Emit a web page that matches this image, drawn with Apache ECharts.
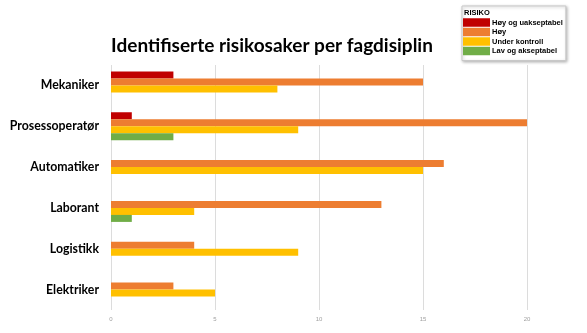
<!DOCTYPE html>
<html>
<head>
<meta charset="utf-8">
<script src="https://cdn.jsdelivr.net/npm/echarts@6/dist/echarts.min.js"></script>
<style>
  html, body { margin: 0; padding: 0; background: #fff; }
  #chart { width: 587px; height: 333px; }
</style>
</head>
<body>
<div id="chart"></div>
<script>
// Disciplines (top to bottom)
const categories = ['Mekaniker', 'Prosessoperatør', 'Automatiker', 'Laborant', 'Logistikk', 'Elektriker'];

// Number of risk cases per risk level
const hoyUakseptabel = [3, 1, null, null, null, null];
const hoy            = [15, 20, 16, 13, 4, 3];
const underKontroll  = [8, 9, 15, 4, 9, 5];
const lavAkseptabel  = [null, 3, null, 1, null, null];

const xTicks = [0, 5, 10, 15, 20];

const seriesNames = ['Høy og uakseptabel', 'Høy', 'Under kontroll', 'Lav og akseptabel'];
const seriesColors = ['#C00000', '#ED7D31', '#FFC000', '#70AD47'];
const seriesData = [hoyUakseptabel, hoy, underKontroll, lavAkseptabel];

const chart = echarts.init(document.getElementById('chart'), null, { renderer: 'canvas' });

chart.setOption({
  animation: false,
  backgroundColor: '#ffffff',
  title: [
    {
      text: 'Identifiserte risikosaker per fagdisiplin',
      left: 267, top: 31, textAlign: 'center',
      textStyle: { fontFamily: 'Lato', fontWeight: 'bold', fontSize: 19, color: '#000' }
    },
    {
      text: 'RISIKO',
      left: 464, top: 9,
      padding: 0,
      textStyle: { fontFamily: 'Liberation Sans', fontWeight: 'bold', fontSize: 7.5, color: '#000' }
    }
  ],
  legend: {
    orient: 'vertical',
    left: 462, top: 6,
    padding: [12, 3, 5, 1],
    itemWidth: 27, itemHeight: 8.5, itemGap: 0.5,
    icon: 'rect',
    backgroundColor: '#fff',
    borderColor: '#c8c8c8', borderWidth: 1,
    shadowColor: 'rgba(0,0,0,0.25)', shadowBlur: 3, shadowOffsetX: 1, shadowOffsetY: 1,
    textStyle: { fontFamily: 'Liberation Sans', fontWeight: 'bold', fontSize: 7.5, color: '#000', padding: [0, 0, 0, -3], lineHeight: 9 },
    data: seriesNames
  },
  grid: { left: 111, right: 60, top: 65, bottom: 23, containLabel: false },
  xAxis: {
    type: 'value', min: 0, max: 20, interval: 5,
    axisLine: { show: false }, axisTick: { show: false },
    splitLine: { show: true, lineStyle: { color: '#dcdcdc', width: 1 } },
    axisLabel: {
      margin: 6, color: '#a0a0a0', fontSize: 6, fontFamily: 'Liberation Sans',
      formatter: v => (xTicks.indexOf(v) >= 0 ? String(v) : '')
    }
  },
  yAxis: {
    type: 'category', data: categories, inverse: true,
    axisLine: { show: false }, axisTick: { show: false },
    axisLabel: { margin: 12, color: '#000', fontFamily: 'Lato', fontWeight: 'bold', fontSize: 12.3 }
  },
  series: seriesNames.map((name, i) => ({
    name: name,
    type: 'bar',
    data: seriesData[i],
    barWidth: 7,
    barGap: '0%',
    itemStyle: { color: seriesColors[i] }
  }))
});
</script>
</body>
</html>
